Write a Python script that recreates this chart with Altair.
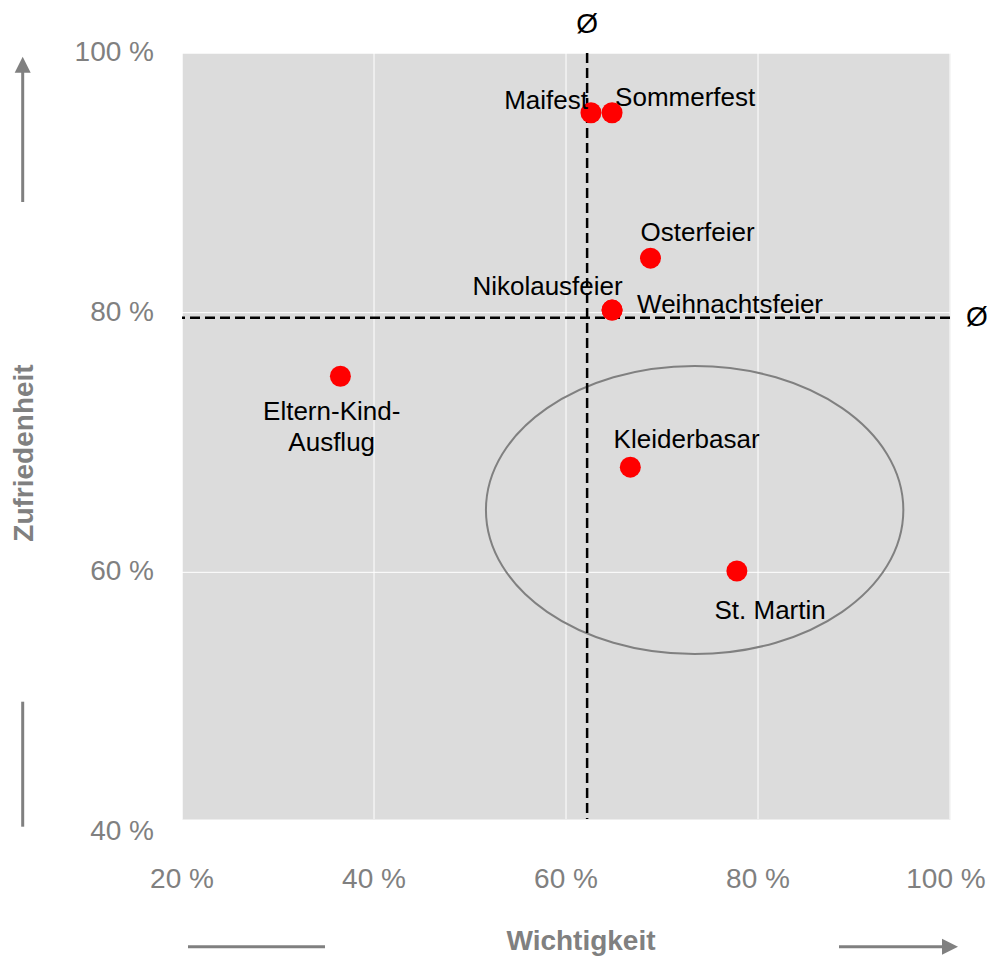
import altair as alt
import pandas as pd

# ---------------- data ----------------
events = ["Maifest", "Sommerfest", "Osterfeier", "Nikolausfeier", "Weihnachtsfeier",
          "Eltern-Kind-Ausflug", "Kleiderbasar", "St. Martin"]
labels = ["Maifest", "Sommerfest", "Osterfeier", "Nikolausfeier", "Weihnachtsfeier",
          "Eltern-Kind-\nAusflug", "Kleiderbasar", "St. Martin"]
wichtigkeit = [62.6, 64.8, 68.8, 64.8, 64.8, 36.5, 66.7, 77.8]      # x, %
zufriedenheit = [95.4, 95.4, 84.2, 80.2, 80.2, 75.1, 68.1, 60.1]    # y, %

avg_wichtigkeit = [62.2]
avg_zufriedenheit = [79.6]

x_ticks = [20, 40, 60, 80, 100]
y_ticks = [40, 60, 80, 100]

focus_x = [73.4]   # centre of the highlighted group (ellipse)
focus_y = [64.8]

x_title = ["Wichtigkeit"]
y_title = ["Zufriedenheit"]

# ---------------- style ----------------
FONT = "Liberation Sans"
GREY = "#808080"
W, H = 768, 766
X_DOMAIN = [20, 100]
Y_DOMAIN = [41, 100]

df = pd.DataFrame({"event": events, "label": labels, "w": wichtigkeit, "z": zufriedenheit})
avg_x_df = pd.DataFrame({"a": avg_wichtigkeit})
avg_y_df = pd.DataFrame({"a": avg_zufriedenheit})
focus_df = pd.DataFrame({"fx": focus_x, "fy": focus_y})
xt_df = pd.DataFrame({"t": x_ticks})
yt_df = pd.DataFrame({"t": y_ticks})
one = pd.DataFrame({"k": [0]})

xs = alt.Scale(domain=X_DOMAIN, nice=False, zero=False)
ys = alt.Scale(domain=Y_DOMAIN, nice=False, zero=False)

ELLIPSE = ("M 1 0 C 1 0.381 0.552 0.69 0 0.69 C -0.552 0.69 -1 0.381 -1 0 "
           "C -1 -0.381 -0.552 -0.69 0 -0.69 C 0.552 -0.69 1 -0.381 1 0 Z")
ARROW_UP = "M 0 -1 L 1 1 L -1 1 Z"
ARROW_RIGHT = "M 1 0 L -1 1 L -1 -1 Z"

# ---------------- grid & tick labels ----------------
x_grid = alt.Chart(xt_df).mark_rule(color="white", strokeWidth=1).encode(
    x=alt.X("t:Q", scale=xs, axis=None))
y_grid = alt.Chart(yt_df).transform_filter(
    alt.datum.t >= Y_DOMAIN[0]
).mark_rule(color="white", strokeWidth=1).encode(
    y=alt.Y("t:Q", scale=ys, axis=None))

x_label_style = dict(font=FONT, fontSize=28, color=GREY, align="center", baseline="alphabetic")
x_labels = alt.Chart(xt_df).transform_filter(alt.datum.t < X_DOMAIN[1]).transform_calculate(
    s="datum.t + ' %'"
).mark_text(**x_label_style).encode(
    x=alt.X("t:Q", scale=xs, axis=None), y=alt.value(H + 69), text="s:N")
x_label_last = alt.Chart(xt_df).transform_filter(alt.datum.t >= X_DOMAIN[1]).transform_calculate(
    s="datum.t + ' %'"
).mark_text(dx=-4, **x_label_style).encode(
    x=alt.X("t:Q", scale=xs, axis=None), y=alt.value(H + 69), text="s:N")
y_labels = alt.Chart(yt_df).transform_calculate(s="datum.t + ' %'").mark_text(
    font=FONT, fontSize=28, color=GREY, align="right", baseline="middle"
).encode(x=alt.value(-28), y=alt.Y("t:Q", scale=ys, axis=None), text="s:N")

x_title_mark = alt.Chart(pd.DataFrame({"s": x_title})).mark_text(
    font=FONT, fontSize=28, fontWeight="bold", color=GREY, align="center", baseline="alphabetic"
).encode(x=alt.value(399), y=alt.value(H + 131), text="s:N")
y_title_mark = alt.Chart(pd.DataFrame({"s": y_title})).mark_text(
    font=FONT, fontSize=28, fontWeight="bold", color=GREY, align="center", baseline="alphabetic",
    angle=270
).encode(x=alt.value(-149), y=alt.value(400), text="s:N")

# ---------------- data marks ----------------
ellipse = alt.Chart(focus_df).mark_point(
    shape=ELLIPSE, size=174223, filled=False, stroke=GREY, strokeWidth=2, opacity=1
).encode(
    x=alt.X("fx:Q", scale=xs, axis=None),
    y=alt.Y("fy:Q", scale=ys, axis=None),
)

vline = alt.Chart(avg_x_df).mark_rule(color="black", strokeWidth=2.5, strokeDash=[10, 5]).encode(
    x=alt.X("a:Q", scale=xs, axis=None))
hline = alt.Chart(avg_y_df).mark_rule(color="black", strokeWidth=2.5, strokeDash=[10, 5]).encode(
    y=alt.Y("a:Q", scale=ys, axis=None))

avg_sym_top = alt.Chart(avg_x_df).mark_text(
    text="Ø", font=FONT, fontSize=28, color="black", baseline="middle", align="center"
).encode(x=alt.X("a:Q", scale=xs, axis=None), y=alt.value(-28))
avg_sym_right = alt.Chart(avg_y_df).mark_text(
    text="Ø", font=FONT, fontSize=28, color="black", baseline="middle", align="left"
).encode(x=alt.value(784), y=alt.Y("a:Q", scale=ys, axis=None))

dots = alt.Chart(df).mark_circle(size=441, color="#ff0000", opacity=1).encode(
    x=alt.X("w:Q", scale=xs, axis=None),
    y=alt.Y("z:Q", scale=ys, axis=None),
)

placement = {
    "Maifest": (-3, -4, "right"),
    "Sommerfest": (3, -7, "left"),
    "Osterfeier": (-10, -17.6, "left"),
    "Nikolausfeier": (10.6, -15, "right"),
    "Weihnachtsfeier": (25, 3.3, "left"),
    "Eltern-Kind-Ausflug": (-8.7, 43.3, "center"),
    "Kleiderbasar": (-16.7, -19, "left"),
    "St. Martin": (-22.4, 47.6, "left"),
}
label_layers = []
for ev in events:
    dx, dy, al = placement[ev]
    label_layers.append(
        alt.Chart(df).transform_filter(alt.datum.event == ev).mark_text(
            align=al, baseline="alphabetic", dx=dx, dy=dy, font=FONT, fontSize=26,
            color="black", lineBreak="\n", lineHeight=31.7
        ).encode(
            x=alt.X("w:Q", scale=xs, axis=None),
            y=alt.Y("z:Q", scale=ys, axis=None),
            text="label:N",
        )
    )

# ---------------- axis direction arrows ----------------
deco_style = dict(color=GREY, strokeWidth=3)
up_line = alt.Chart(one).mark_rule(**deco_style).encode(
    x=alt.value(-159.3), y=alt.value(18), y2=alt.value(149))
down_line = alt.Chart(one).mark_rule(**deco_style).encode(
    x=alt.value(-159.3), y=alt.value(648.7), y2=alt.value(773.7))
up_head = alt.Chart(one).mark_point(
    shape=ARROW_UP, size=256, filled=True, color=GREY, opacity=1, strokeWidth=0
).encode(x=alt.value(-159.3), y=alt.value(11.7))
left_line = alt.Chart(one).mark_rule(**deco_style).encode(
    x=alt.value(6), x2=alt.value(143), y=alt.value(893.7))
right_line = alt.Chart(one).mark_rule(**deco_style).encode(
    x=alt.value(657), x2=alt.value(762), y=alt.value(893.7))
right_head = alt.Chart(one).mark_point(
    shape=ARROW_RIGHT, size=256, filled=True, color=GREY, opacity=1, strokeWidth=0
).encode(x=alt.value(768), y=alt.value(893.7))

chart = alt.layer(
    x_grid, y_grid, ellipse, vline, hline, dots, *label_layers,
    avg_sym_top, avg_sym_right, x_labels, x_label_last, y_labels, x_title_mark, y_title_mark,
    up_line, down_line, up_head, left_line, right_line, right_head,
).properties(
    width=W, height=H,
    padding={"left": 174, "top": 45, "right": 37, "bottom": 140},
    autosize=alt.AutoSizeParams(type="none"),
).configure(
    font=FONT
).configure_view(
    fill="#dcdcdc", stroke="transparent"
)

chart.save("out.html", embed_options={"renderer": "svg", "actions": False})
